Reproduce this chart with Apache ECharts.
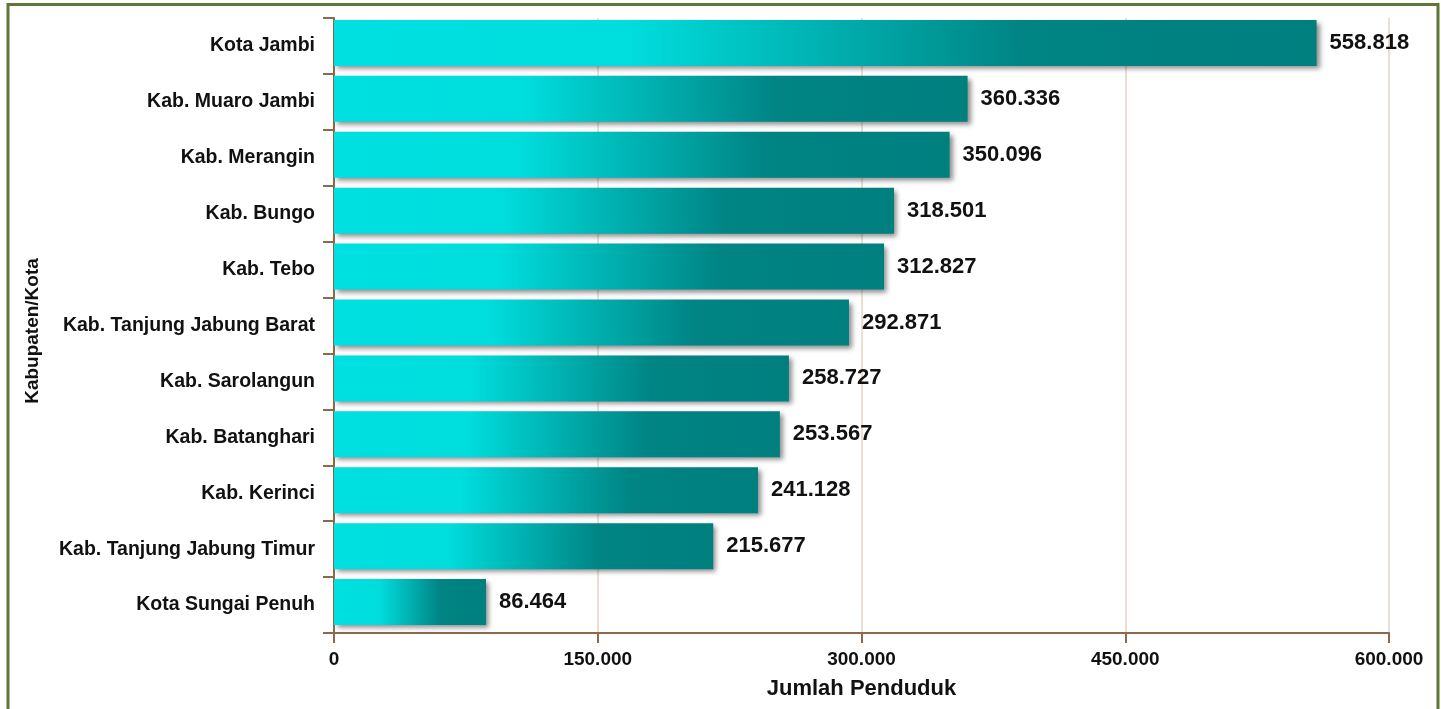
<!DOCTYPE html>
<html>
<head>
<meta charset="utf-8">
<script src="https://cdn.jsdelivr.net/npm/echarts@6/dist/echarts.min.js"></script>
<style>
  html, body { margin: 0; padding: 0; background: #ffffff; }
  #chart { width: 1441px; height: 709px; }
</style>
</head>
<body>
<div id="chart"></div>
<script>
// Population per regency / city, Jambi province
const categories = [
  'Kota Jambi',
  'Kab. Muaro Jambi',
  'Kab. Merangin',
  'Kab. Bungo',
  'Kab. Tebo',
  'Kab. Tanjung Jabung Barat',
  'Kab. Sarolangun',
  'Kab. Batanghari',
  'Kab. Kerinci',
  'Kab. Tanjung Jabung Timur',
  'Kota Sungai Penuh'
];
const population = [558818, 360336, 350096, 318501, 312827, 292871, 258727, 253567, 241128, 215677, 86464];
const xTicks = [0, 150000, 300000, 450000, 600000];

const FONT = '"Liberation Sans", Arial, sans-serif';
const AXIS_BROWN = '#8a6a4a';

// Indonesian thousands separator: 558818 -> "558.818"
function fmt(v) {
  return String(Math.round(v)).replace(/\B(?=(\d{3})+(?!\d))/g, '.');
}

const chart = echarts.init(document.getElementById('chart'), null, { renderer: 'canvas' });

chart.setOption({
  backgroundColor: '#ffffff',
  animation: false,
  graphic: [
    {
      type: 'polyline',
      shape: { points: [[8, 720], [8, 4.5], [1438, 4.5], [1438, 720]] },
      style: { stroke: '#5e7636', lineWidth: 3, fill: null },
      z: 100
    },
    {
      type: 'text',
      x: 33,
      y: 331,
      rotation: Math.PI / 2,
      style: {
        text: 'Kabupaten/Kota',
        align: 'center',
        verticalAlign: 'middle',
        fontFamily: FONT, fontWeight: 'bold', fontSize: 19, fill: '#111'
      }
    }
  ],
  grid: { left: 334, right: 52, top: 18, bottom: 76, containLabel: false },
  xAxis: {
    type: 'value',
    min: xTicks[0],
    max: xTicks[xTicks.length - 1],
    interval: xTicks[1] - xTicks[0],
    name: 'Jumlah Penduduk',
    nameLocation: 'middle',
    nameGap: 45,
    nameTextStyle: { fontFamily: FONT, fontWeight: 'bold', fontSize: 22, color: '#111' },
    axisLine: { show: true, lineStyle: { color: AXIS_BROWN, width: 2 } },
    axisTick: { show: true, length: 10, lineStyle: { color: AXIS_BROWN, width: 2 } },
    axisLabel: {
      margin: 17,
      fontFamily: FONT, fontWeight: 'bold', fontSize: 19, color: '#111',
      formatter: fmt
    },
    splitLine: { show: true, lineStyle: { color: '#e4d5c6', width: 1.5 } }
  },
  yAxis: {
    type: 'category',
    data: categories,
    inverse: true,
    axisLine: { show: true, lineStyle: { color: AXIS_BROWN, width: 2 } },
    axisTick: { show: true, length: 11, lineStyle: { color: AXIS_BROWN, width: 2 } },
    axisLabel: {
      margin: 19,
      fontFamily: FONT, fontWeight: 'bold', fontSize: 19.5, color: '#111'
    },
    splitLine: { show: false }
  },
  series: [
    {
      type: 'bar',
      data: population,
      barWidth: 46,
      barGap: '0%',
      itemStyle: {
        color: new echarts.graphic.LinearGradient(0, 0, 1, 0, [
          { offset: 0, color: '#00e0e0' },
          { offset: 0.3, color: '#00dddd' },
          { offset: 0.7, color: '#008484' },
          { offset: 1, color: '#007f7f' }
        ]),
        shadowColor: 'rgba(0,0,0,0.45)',
        shadowBlur: 5,
        shadowOffsetX: 3,
        shadowOffsetY: 3
      },
      label: {
        show: true,
        position: 'right',
        distance: 13,
        fontFamily: FONT,
        fontWeight: 'bold',
        fontSize: 22,
        color: '#111',
        formatter: p => fmt(p.value)
      }
    },
    {
      // empty companion series: keeps the bars sitting in the upper part of each band
      type: 'bar',
      data: categories.map(() => null),
      barWidth: 6,
      silent: true,
      itemStyle: { color: 'transparent' }
    }
  ]
});
</script>
</body>
</html>
